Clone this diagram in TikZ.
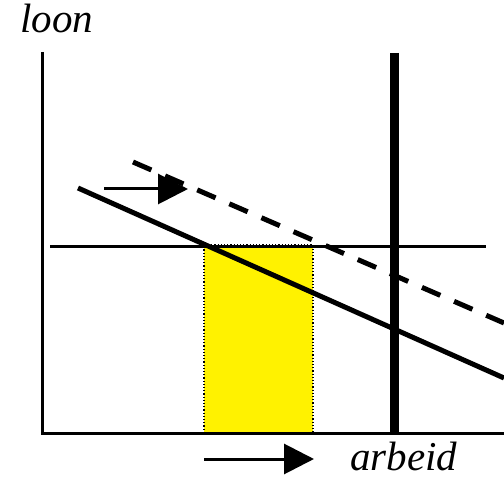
\documentclass[tikz,border=0pt]{standalone}
\usepackage{fontspec}
\setmainfont{Liberation Serif}
\usetikzlibrary{arrows.meta}
\begin{document}
\begin{tikzpicture}[x=1pt,y=-1pt,
  axis/.style={line width=3pt},
  curve/.style={line width=5pt},
  shiftarrow/.style={line width=3pt,-{Triangle[length=30pt,width=30pt]}},
  lbl/.style={font=\fontsize{41}{48}\selectfont\itshape,inner sep=0pt,anchor=base west}]
\useasboundingbox (0,0) rectangle (504,481);
% yellow area
\fill[yellow] (204,245) rectangle (313,433);
\draw[line width=1.2pt,dotted] (204,433) -- (204,245) -- (313,245) -- (313,433);
% coordinates
\coordinate (ytop) at (42,52);
\coordinate (origin) at (42,433);
\coordinate (xend) at (504,433);
\coordinate (hl) at (50,247);
\coordinate (hr) at (486,247);
\coordinate (vt) at (394,53);
\coordinate (vb) at (394,433);
\coordinate (d1) at (78,188);
\coordinate (d2) at (504,378);
\coordinate (e1) at (133,162);
\coordinate (e2) at (504,323);
\coordinate (a1) at (104,189);
\coordinate (a2) at (188,189);
\coordinate (b1) at (204,459);
\coordinate (b2) at (314,459);
% axes
\draw[axis] (ytop) -- (origin) -- (xend);
% horizontal line
\draw[axis] (hl) -- (hr);
% vertical thick line
\draw[line width=9pt] (vt) -- (vb);
% demand lines
\draw[curve] (d1) -- (d2);
\draw[curve,dash pattern=on 20pt off 15pt] (e1) -- (e2);
% arrows
\draw[shiftarrow] (a1) -- (a2);
\draw[shiftarrow] (b1) -- (b2);
% labels
\node[lbl] (loon) at (20,33) {loon};
\node[lbl] (arbeid) at (350,470) {arbeid};
\end{tikzpicture}
\end{document}
